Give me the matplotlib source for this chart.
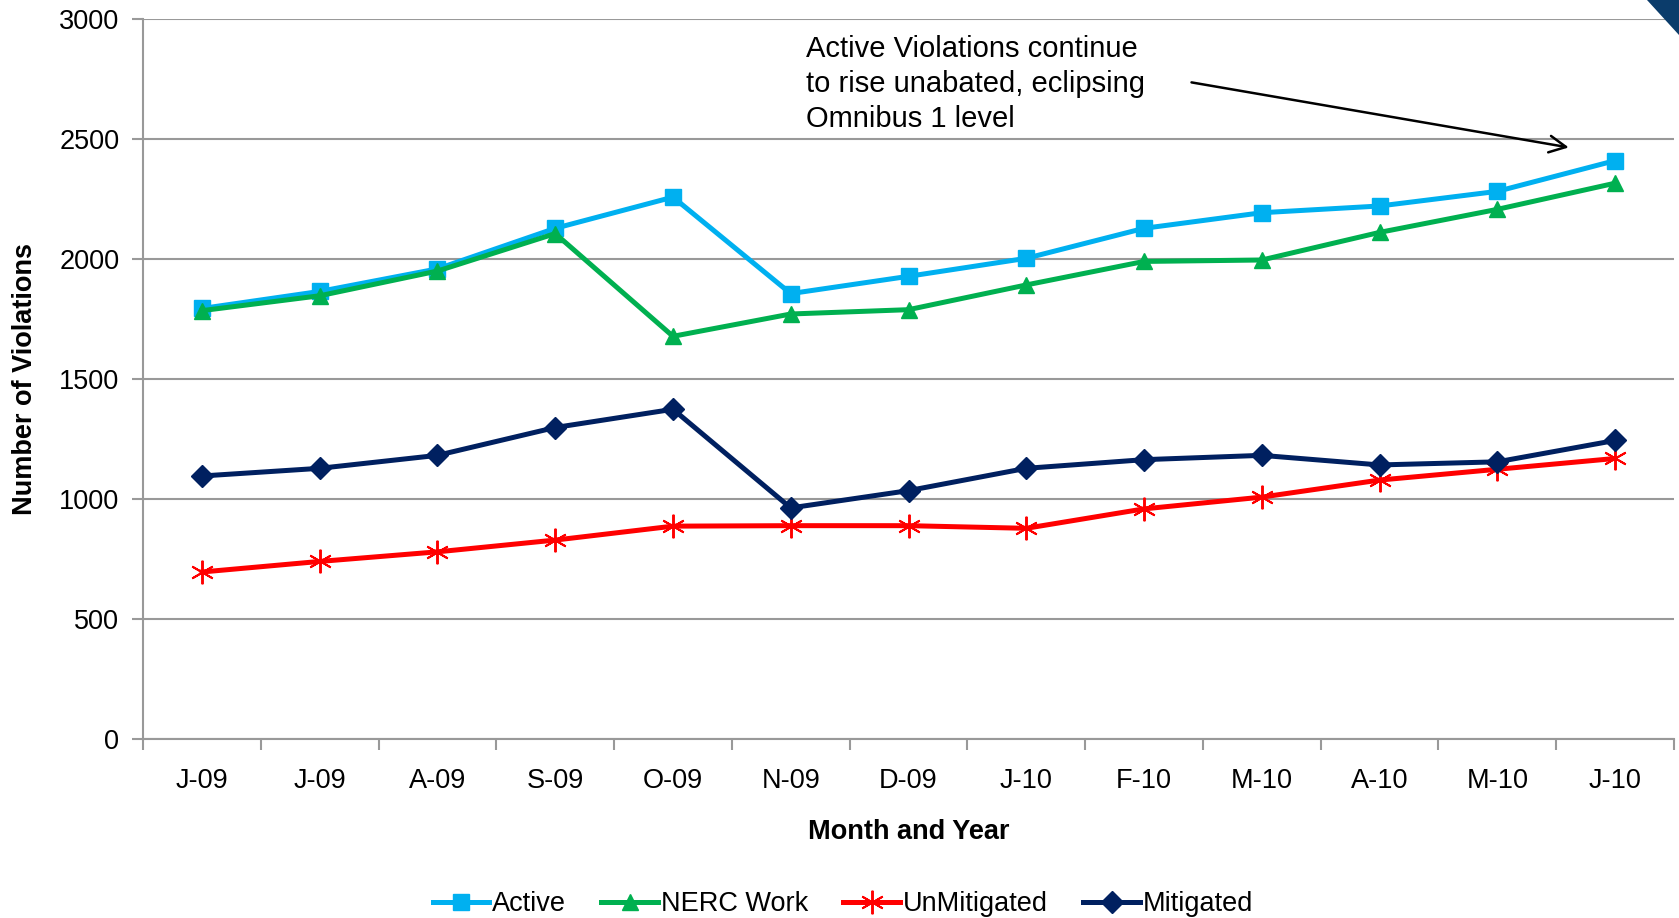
import matplotlib
matplotlib.use("Agg")
import matplotlib.pyplot as plt
from matplotlib.patches import Polygon

plt.rcParams['font.family'] = ['Liberation Sans', 'DejaVu Sans']

# Data
months = ['J-09', 'J-09', 'A-09', 'S-09', 'O-09', 'N-09', 'D-09',
          'J-10', 'F-10', 'M-10', 'A-10', 'M-10', 'J-10']
active = [1795, 1866, 1960, 2129, 2259, 1857, 1929, 2004, 2129, 2194, 2222, 2283, 2411]
nerc_work = [1786, 1848, 1951, 2107, 1679, 1772, 1790, 1893, 1991, 1997, 2112, 2208, 2317]
unmitigated = [697, 741, 781, 830, 888, 890, 890, 879, 960, 1009, 1080, 1125, 1170]
mitigated = [1097, 1129, 1183, 1299, 1375, 964, 1036, 1129, 1165, 1183, 1143, 1156, 1245]

x = list(range(len(months)))
grid_color = '#999999'

fig = plt.figure(figsize=(16.79, 9.18), dpi=100)
ax = fig.add_axes([0.0852, 0.1947, 0.9118, 0.7843])

ax.plot(x, active, '-s', color='#00B0F0', lw=3.6, ms=11, label='Active')
ax.plot(x, nerc_work, '-^', color='#00B050', lw=3.6, ms=11, label='NERC Work')
ax.plot(x, unmitigated, '-', color='#FF0000', lw=3.6, label='UnMitigated',
        marker=(6, 2, 0), ms=17, mew=1.4)
ax.plot(x, mitigated, '-D', color='#002060', lw=3.6, ms=11, label='Mitigated')

ax.set_xlim(-0.5, len(months) - 0.5)
ax.set_ylim(0, 3000)
ax.set_yticks(range(0, 3001, 500))
ax.yaxis.grid(True, color=grid_color, lw=1.5)
ax.set_axisbelow(True)

# category boundaries get the tick marks, labels sit in the middle
ax.set_xticks([i - 0.5 for i in range(len(months) + 1)])
ax.set_xticklabels([])
ax.set_xticks(x, minor=True)
ax.set_xticklabels(months, minor=True)
ax.tick_params(axis='x', which='major', length=8, width=1.5, color=grid_color, direction='out')
ax.tick_params(axis='x', which='minor', length=0, pad=21, labelsize=19.5)
ax.tick_params(axis='y', length=8, width=1.5, color=grid_color, pad=9, labelsize=19.5)

for s in ['top', 'right']:
    ax.spines[s].set_visible(False)
for s in ['left', 'bottom']:
    ax.spines[s].set_color(grid_color)
    ax.spines[s].set_linewidth(1.5)

ax.set_xlabel('Month and Year', fontsize=19.5, fontweight='bold', labelpad=18)
ax.set_ylabel('Number of Violations', fontsize=19.5, fontweight='bold', labelpad=15)

ax.annotate('', xy=(11.63, 2464), xytext=(8.38, 2739),
            arrowprops=dict(arrowstyle='->', color='black', lw=1.8, mutation_scale=30))
ax.text(5.13, 2935, 'Active Violations continue\nto rise unabated, eclipsing\nOmnibus 1 level',
        fontsize=21, va='top', ha='left', linespacing=1.33)

leg = fig.legend(loc='lower center', bbox_to_anchor=(0.502, -0.026), ncol=4, frameon=False,
                 fontsize=19.5, handlelength=2.1, handletextpad=0.1, columnspacing=1.3)

# corner decoration from the slide
fig.patches.append(Polygon([[0.981, 1.0], [1.0, 1.0], [1.0, 0.962]], closed=True,
                           transform=fig.transFigure, facecolor='#0B3C6B', edgecolor='none'))

fig.savefig('out.png', dpi=100)
